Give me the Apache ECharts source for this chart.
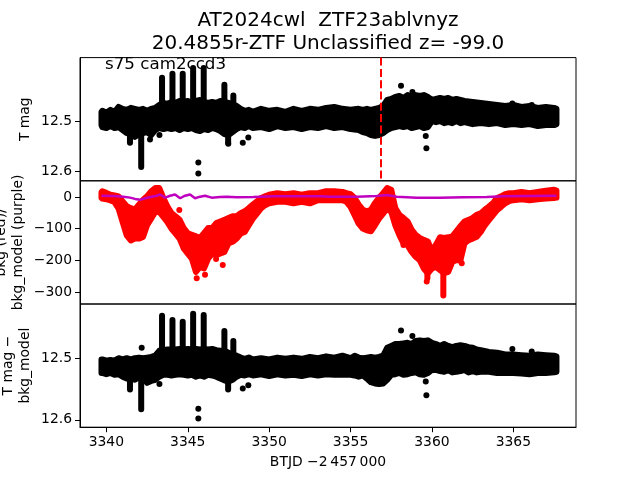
<!DOCTYPE html>
<html>
<head>
<meta charset="utf-8">
<title>AT2024cwl ZTF23ablvnyz</title>
<script src="https://cdn.jsdelivr.net/npm/echarts@6/dist/echarts.min.js"></script>
<style>
html, body { margin: 0; padding: 0; background: #fff; }
#chart { width: 640px; height: 480px; }
</style>
</head>
<body>
<div id="chart"></div>
<script>
// x ticks (BTJD - 2457000)
var timeTicks = [3340, 3345, 3350, 3355, 3360, 3365];
var magTicksTop = [12.5, 12.6];
var bkgTicks = [0, -100, -200, -300];
var magTicksBottom = [12.5, 12.6];
var eventTime = 3356.85;

// top panel: T mag, band of points [t, upper, lower]
var topBand = [
  [3339.70, 12.480, 12.507], [3339.75, 12.478, 12.511], [3340.00, 12.482, 12.513], [3340.25, 12.476, 12.509],
  [3340.50, 12.480, 12.513], [3340.75, 12.470, 12.511], [3341.00, 12.474, 12.517], [3341.25, 12.476, 12.523],
  [3341.50, 12.472, 12.525], [3341.75, 12.474, 12.531], [3342.00, 12.476, 12.525], [3342.25, 12.474, 12.523],
  [3342.50, 12.478, 12.521], [3342.75, 12.474, 12.527], [3343.00, 12.472, 12.517], [3343.25, 12.466, 12.513],
  [3343.50, 12.462, 12.515], [3343.75, 12.464, 12.513], [3344.00, 12.460, 12.515], [3344.25, 12.462, 12.513],
  [3344.50, 12.458, 12.517], [3344.75, 12.460, 12.513], [3345.00, 12.458, 12.515], [3345.25, 12.462, 12.513],
  [3345.50, 12.458, 12.517], [3345.75, 12.456, 12.519], [3346.00, 12.460, 12.515], [3346.25, 12.462, 12.517],
  [3346.50, 12.460, 12.513], [3346.75, 12.462, 12.515], [3347.00, 12.458, 12.519], [3347.25, 12.460, 12.525],
  [3347.50, 12.462, 12.527], [3347.75, 12.464, 12.521], [3348.00, 12.468, 12.515], [3348.25, 12.474, 12.511],
  [3348.50, 12.478, 12.513], [3348.75, 12.476, 12.509], [3349.00, 12.480, 12.513], [3349.50, 12.474, 12.511],
  [3350.00, 12.478, 12.515], [3350.50, 12.476, 12.509], [3351.00, 12.480, 12.513], [3351.50, 12.474, 12.511],
  [3352.00, 12.478, 12.515], [3352.50, 12.474, 12.511], [3353.00, 12.476, 12.513], [3353.50, 12.472, 12.509],
  [3354.00, 12.470, 12.513], [3354.50, 12.474, 12.511], [3355.00, 12.476, 12.515], [3355.50, 12.474, 12.517],
  [3355.75, 12.476, 12.521], [3356.00, 12.474, 12.523], [3356.25, 12.476, 12.527], [3356.50, 12.474, 12.529],
  [3356.75, 12.472, 12.527], [3357.00, 12.468, 12.523], [3357.25, 12.456, 12.517], [3357.50, 12.454, 12.513],
  [3357.75, 12.450, 12.511], [3358.00, 12.448, 12.509], [3358.25, 12.452, 12.511], [3358.50, 12.446, 12.509],
  [3358.75, 12.450, 12.513], [3359.00, 12.446, 12.511], [3359.25, 12.448, 12.509], [3359.50, 12.446, 12.513],
  [3359.75, 12.450, 12.511], [3360.00, 12.456, 12.499], [3360.25, 12.454, 12.501], [3360.50, 12.452, 12.499],
  [3360.75, 12.454, 12.503], [3361.00, 12.452, 12.501], [3361.25, 12.456, 12.503], [3361.50, 12.454, 12.499],
  [3361.75, 12.456, 12.503], [3362.00, 12.458, 12.501], [3362.50, 12.460, 12.505], [3363.00, 12.462, 12.503],
  [3363.50, 12.464, 12.505], [3364.00, 12.466, 12.503], [3364.50, 12.468, 12.507], [3365.00, 12.466, 12.505],
  [3365.50, 12.470, 12.507], [3366.00, 12.468, 12.505], [3366.50, 12.472, 12.509], [3367.00, 12.470, 12.507],
  [3367.50, 12.472, 12.507], [3367.65, 12.474, 12.505]
];
// narrow flares and dips [t, from, to]
var topSpikes = [
  [3341.45, 12.520, 12.543], [3342.14, 12.520, 12.592], [3343.42, 12.470, 12.411], [3344.06, 12.470, 12.403],
  [3344.69, 12.470, 12.403], [3345.33, 12.470, 12.391], [3345.98, 12.470, 12.391], [3347.25, 12.470, 12.425],
  [3347.48, 12.520, 12.543], [3347.80, 12.470, 12.447]
];
var topDots = [
  [3342.68, 12.536], [3343.26, 12.527], [3345.65, 12.583], [3345.65, 12.605], [3347.49, 12.545],
  [3348.38, 12.543], [3348.72, 12.532], [3358.10, 12.427], [3358.80, 12.440], [3359.62, 12.529],
  [3359.66, 12.554], [3364.94, 12.463], [3366.13, 12.466]
];

// middle panel: background flux (red) [t, upper, lower]
var bkgBand = [
  [3339.70, 15, -3], [3339.75, 18, -5], [3340.00, 13, -7], [3340.25, 7, -11], [3340.50, 5, -16],
  [3340.75, 2, -37], [3341.00, -14, -79], [3341.25, -29, -121], [3341.50, -35, -137], [3341.75, -40, -131],
  [3342.00, -24, -131], [3342.25, -9, -126], [3342.50, 2, -89], [3342.75, 18, -68], [3343.00, 28, -47],
  [3343.25, 28, -47], [3343.50, -3, -63], [3343.75, -30, -79], [3344.00, -51, -100], [3344.25, -61, -115],
  [3344.50, -72, -131], [3344.75, -98, -162], [3345.00, -114, -178], [3345.25, -119, -194], [3345.50, -124, -236],
  [3345.75, -129, -220], [3346.00, -114, -225], [3346.25, -98, -194], [3346.50, -98, -178], [3346.75, -82, -183],
  [3347.00, -77, -178], [3347.25, -72, -173], [3347.50, -66, -146], [3347.75, -61, -141], [3348.00, -61, -131],
  [3348.25, -51, -115], [3348.50, -45, -110], [3348.75, -35, -89], [3349.00, -24, -68], [3349.25, -14, -52],
  [3349.50, -3, -36], [3349.75, 2, -26], [3350.00, 7, -20], [3350.50, 12, -15], [3351.00, 9, -15],
  [3351.50, 12, -20], [3352.00, 7, -15], [3352.50, 12, -20], [3353.00, 12, -10], [3353.50, 18, -10],
  [3354.00, 18, -10], [3354.50, 16, -10], [3354.75, 12, -15], [3355.00, 9, -31], [3355.25, -3, -57],
  [3355.50, -24, -84], [3355.75, -40, -99], [3356.00, -45, -105], [3356.25, -40, -108], [3356.50, -19, -89],
  [3356.75, -3, -68], [3357.00, 12, -52], [3357.25, 28, -36], [3357.50, 23, -47], [3357.75, -35, -89],
  [3358.00, -56, -120], [3358.25, -66, -146], [3358.50, -77, -152], [3358.75, -103, -173], [3359.00, -119, -188],
  [3359.25, -129, -199], [3359.50, -135, -225], [3359.75, -140, -240], [3360.00, -171, -225], [3360.25, -150, -220],
  [3360.50, -127, -230], [3360.75, -129, -240], [3361.00, -127, -236], [3361.25, -124, -204], [3361.50, -108, -199],
  [3361.75, -92, -199], [3362.00, -77, -146], [3362.25, -72, -136], [3362.50, -66, -131], [3362.75, -56, -125],
  [3363.00, -51, -110], [3363.25, -40, -89], [3363.50, -30, -73], [3363.75, -19, -57], [3364.00, -3, -41],
  [3364.25, 2, -31], [3364.50, 9, -20], [3364.75, 12, -13], [3365.00, 12, -10], [3365.50, 16, -7],
  [3366.00, 12, -10], [3366.50, 16, -7], [3367.00, 20, -5], [3367.50, 23, -3], [3367.65, 20, -2]
];
var bkgSpikes = [[3359.72, -230, -256], [3360.70, -240, -310]];
var bkgDots = [
  [3344.48, -41], [3345.55, -256], [3346.06, -245], [3346.74, -195], [3347.15, -214],
  [3358.25, -151], [3359.68, -266], [3361.83, -209]
];
// background model (purple)
var bkgModel = [
  [3339.70, 4], [3340.43, 3], [3341.04, 1], [3341.46, -2], [3341.76, -6], [3342.07, -9], [3342.38, -4],
  [3342.79, 1], [3343.10, 4], [3343.30, 8], [3343.61, -2], [3343.91, 4], [3344.22, 8], [3344.53, -4],
  [3344.83, 4], [3345.14, 8], [3345.45, -4], [3345.76, 1], [3346.06, 4], [3346.47, -2], [3346.98, 0],
  [3347.40, 1], [3348.01, -1], [3349.03, 0], [3350.26, 2], [3351.70, 2], [3353.13, 2], [3353.74, 1],
  [3355.38, 1], [3356.61, 3], [3357.22, 6], [3357.84, 1], [3359.07, -2], [3360.50, -2], [3361.93, -1],
  [3363.37, 0], [3364.39, 2], [3366.03, 3], [3367.65, 4]
];

// bottom panel: T mag - bkg_model [t, upper, lower]
var bottomBand = [
  [3339.70, 12.502, 12.524], [3339.75, 12.502, 12.524], [3340.00, 12.504, 12.526], [3340.25, 12.503, 12.524],
  [3340.50, 12.504, 12.527], [3340.75, 12.500, 12.526], [3341.00, 12.502, 12.530], [3341.25, 12.500, 12.533],
  [3341.50, 12.502, 12.532], [3341.75, 12.500, 12.535], [3342.00, 12.499, 12.531], [3342.25, 12.500, 12.530],
  [3342.50, 12.499, 12.540], [3342.75, 12.498, 12.537], [3343.00, 12.496, 12.535], [3343.25, 12.488, 12.530],
  [3343.50, 12.487, 12.527], [3343.75, 12.486, 12.527], [3344.00, 12.486, 12.528], [3344.25, 12.486, 12.527],
  [3344.50, 12.485, 12.526], [3344.75, 12.486, 12.527], [3345.00, 12.485, 12.528], [3345.25, 12.486, 12.527],
  [3345.50, 12.485, 12.530], [3345.75, 12.486, 12.528], [3346.00, 12.485, 12.530], [3346.25, 12.486, 12.527],
  [3346.50, 12.485, 12.528], [3346.75, 12.487, 12.530], [3347.00, 12.488, 12.533], [3347.25, 12.488, 12.536],
  [3347.50, 12.491, 12.538], [3347.75, 12.494, 12.535], [3348.00, 12.496, 12.530], [3348.25, 12.499, 12.527],
  [3348.50, 12.501, 12.528], [3348.75, 12.499, 12.526], [3349.00, 12.502, 12.528], [3349.50, 12.500, 12.526],
  [3350.00, 12.502, 12.529], [3350.50, 12.499, 12.526], [3351.00, 12.501, 12.528], [3351.50, 12.499, 12.527],
  [3352.00, 12.501, 12.529], [3352.50, 12.498, 12.526], [3353.00, 12.500, 12.528], [3353.50, 12.497, 12.526],
  [3354.00, 12.499, 12.527], [3354.50, 12.496, 12.527], [3355.00, 12.500, 12.527], [3355.25, 12.496, 12.528],
  [3355.50, 12.499, 12.530], [3355.75, 12.500, 12.528], [3356.00, 12.499, 12.533], [3356.25, 12.498, 12.539],
  [3356.50, 12.499, 12.541], [3356.75, 12.498, 12.542], [3357.00, 12.496, 12.541], [3357.25, 12.483, 12.535],
  [3357.50, 12.480, 12.527], [3357.75, 12.477, 12.526], [3358.00, 12.477, 12.524], [3358.25, 12.476, 12.527],
  [3358.50, 12.475, 12.526], [3358.75, 12.477, 12.524], [3359.00, 12.472, 12.523], [3359.25, 12.471, 12.526],
  [3359.50, 12.472, 12.527], [3359.75, 12.471, 12.524], [3360.00, 12.475, 12.519], [3360.25, 12.477, 12.519],
  [3360.50, 12.480, 12.521], [3360.75, 12.477, 12.522], [3361.00, 12.480, 12.519], [3361.25, 12.482, 12.523],
  [3361.50, 12.480, 12.522], [3361.75, 12.479, 12.521], [3362.00, 12.480, 12.519], [3362.25, 12.482, 12.523],
  [3362.50, 12.483, 12.521], [3362.75, 12.486, 12.523], [3363.00, 12.487, 12.522], [3363.50, 12.490, 12.522],
  [3364.00, 12.491, 12.524], [3364.50, 12.494, 12.524], [3365.00, 12.494, 12.524], [3365.50, 12.495, 12.525],
  [3366.00, 12.496, 12.526], [3366.50, 12.494, 12.524], [3367.00, 12.495, 12.524], [3367.50, 12.496, 12.523],
  [3367.65, 12.497, 12.522]
];
var bottomSpikes = [
  [3341.45, 12.530, 12.551], [3342.14, 12.530, 12.583], [3343.42, 12.488, 12.431], [3344.06, 12.488, 12.438],
  [3344.69, 12.488, 12.441], [3345.33, 12.488, 12.428], [3345.98, 12.488, 12.430], [3347.25, 12.490, 12.456],
  [3347.48, 12.535, 12.551], [3347.80, 12.495, 12.472]
];
var bottomDots = [
  [3342.17, 12.483], [3343.26, 12.542], [3345.65, 12.582], [3345.65, 12.598], [3348.38, 12.549],
  [3348.72, 12.544], [3358.10, 12.455], [3358.80, 12.464], [3359.62, 12.538], [3359.66, 12.560],
  [3364.94, 12.485], [3366.13, 12.489]
];

var FONT = 'DejaVu Sans';
var DOT = 6;

// dense points drawn as one filled band between upper and lower values
function bandSeries(band, idx, color) {
  return {
    type: 'custom', xAxisIndex: idx, yAxisIndex: idx, clip: true, silent: true,
    encode: { x: 0, y: [1, 2] },
    data: band,
    renderItem: function (params, api) {
      if (params.dataIndex !== 0) return { type: 'group', children: [] };
      var upper = band.map(function (d) { return api.coord([d[0], d[1]]); });
      var lower = band.map(function (d) { return api.coord([d[0], d[2]]); }).reverse();
      return {
        type: 'polygon',
        shape: { points: upper.concat(lower) },
        style: { fill: color, stroke: color, lineWidth: DOT, lineJoin: 'round' }
      };
    }
  };
}

// columns of points (flares / dips)
function spikeSeries(spikes, idx, color) {
  return {
    type: 'custom', xAxisIndex: idx, yAxisIndex: idx, clip: true, silent: true,
    encode: { x: 0, y: [1, 2] },
    data: spikes,
    renderItem: function (params, api) {
      var a = api.coord([api.value(0), api.value(1)]);
      var b = api.coord([api.value(0), api.value(2)]);
      return {
        type: 'line',
        shape: { x1: a[0], y1: a[1], x2: b[0], y2: b[1] },
        style: { stroke: color, lineWidth: DOT, lineCap: 'round' }
      };
    }
  };
}

function dotSeries(dots, idx, color) {
  return {
    type: 'scatter', xAxisIndex: idx, yAxisIndex: idx, silent: true,
    symbolSize: DOT, itemStyle: { color: color, opacity: 1 }, data: dots
  };
}

var gridTop = [57.6, 180.8, 304];
var grids = gridTop.map(function (t) {
  return { left: 80, right: 64, top: t, height: 123.2, show: true, outerBoundsMode: 'none',
           containLabel: false, borderColor: '#000', borderWidth: 1, backgroundColor: 'transparent' };
});

var xAxes = [0, 1, 2].map(function (i) {
  var last = i === 2;
  return {
    type: 'value', gridIndex: i, min: 3338.38, max: 3368.85,
    splitLine: { show: false },
    axisLine: { show: last, onZero: false, lineStyle: { color: '#000' } },
    axisTick: { show: last, length: 5, customValues: timeTicks, lineStyle: { color: '#000' } },
    axisLabel: { show: last, customValues: timeTicks, formatter: function (v) { return String(v); },
                 color: '#000', fontFamily: FONT, fontSize: 13.9, margin: 8 },
    name: last ? 'BTJD \u22122\u2009457\u2009000' : '',
    nameLocation: 'middle', nameGap: 28, nameMoveOverlap: false,
    nameTextStyle: { color: '#000', fontFamily: FONT, fontSize: 13.9 }
  };
});

function yAxis(i, opts) {
  return {
    type: 'value', gridIndex: i, min: opts.min, max: opts.max, inverse: !!opts.inverse,
    splitLine: { show: false },
    axisLine: { show: true, onZero: false, lineStyle: { color: '#000' } },
    axisTick: { show: true, length: 5, customValues: opts.ticks, lineStyle: { color: '#000' } },
    axisLabel: { customValues: opts.ticks, formatter: opts.fmt, color: '#000',
                 fontFamily: FONT, fontSize: 13.9, margin: 8 },
    name: opts.name, nameLocation: 'middle', nameRotate: 90, nameGap: opts.gap, nameMoveOverlap: false,
    nameTextStyle: { color: '#000', fontFamily: FONT, fontSize: 13.9, lineHeight: 17 }
  };
}

var magFmt = function (v) { return v.toFixed(1); };
var bkgFmt = function (v) { return v < 0 ? '\u2212' + Math.abs(v) : String(v); };

var option = {
  animation: false,
  backgroundColor: '#fff',
  title: {
    text: 'AT2024cwl  ZTF23ablvnyz\n20.4855r-ZTF Unclassified z= -99.0',
    left: 328, top: 9, textAlign: 'center', padding: 0,
    textStyle: { fontFamily: FONT, fontSize: 20, fontWeight: 'normal', color: '#000', lineHeight: 23 }
  },
  graphic: [{
    type: 'text', left: 105, top: 56, silent: true,
    style: { text: 's75 cam2ccd3', fontFamily: FONT, fontSize: 16.7, fill: '#000' }
  }],
  grid: grids,
  xAxis: xAxes,
  yAxis: [
    yAxis(0, { min: 12.370, max: 12.620, inverse: true, ticks: magTicksTop, fmt: magFmt, name: 'T mag', gap: 46 }),
    yAxis(1, { min: -337, max: 51, ticks: bkgTicks, fmt: bkgFmt, name: 'bkg (red)/\nbkg_model (purple)', gap: 53 }),
    yAxis(2, { min: 12.412, max: 12.612, inverse: true, ticks: magTicksBottom, fmt: magFmt, name: 'T mag \u2212\nbkg_model', gap: 46 })
  ],
  series: [
    bandSeries(topBand, 0, '#000'),
    spikeSeries(topSpikes, 0, '#000'),
    Object.assign(dotSeries(topDots, 0, '#000'), {
      markLine: {
        silent: true, symbol: 'none', label: { show: false },
        lineStyle: { color: '#ff0000', type: [8, 3.3], width: 2, opacity: 1 },
        data: [{ xAxis: eventTime }]
      }
    }),
    bandSeries(bkgBand, 1, '#ff0000'),
    spikeSeries(bkgSpikes, 1, '#ff0000'),
    dotSeries(bkgDots, 1, '#ff0000'),
    {
      type: 'line', xAxisIndex: 1, yAxisIndex: 1, silent: true, showSymbol: false,
      lineStyle: { color: '#bf00bf', width: 2.5 }, data: bkgModel, z: 5
    },
    bandSeries(bottomBand, 2, '#000'),
    spikeSeries(bottomSpikes, 2, '#000'),
    dotSeries(bottomDots, 2, '#000')
  ]
};

var chart = echarts.init(document.getElementById('chart'));
chart.setOption(option);
</script>
</body>
</html>
